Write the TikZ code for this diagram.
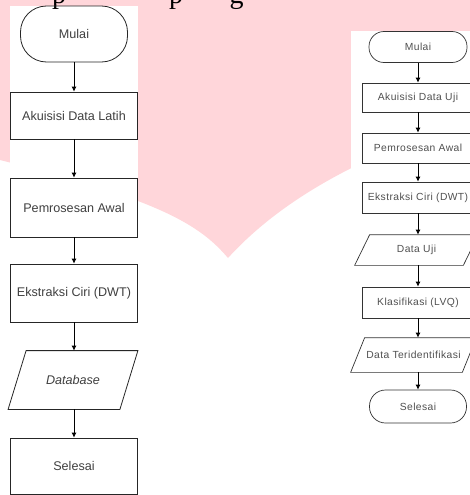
\documentclass[tikz,border=0pt]{standalone}
\usepackage{fontspec}
\setmainfont{Liberation Serif}
\newfontfamily\flowfont{Liberation Sans}
\newfontfamily\flowfontsm[LetterSpace=4]{Liberation Sans}
\usetikzlibrary{arrows.meta}
\definecolor{wmpink}{RGB}{255,214,218}
\definecolor{txtL}{RGB}{64,64,64}
\definecolor{txtR}{RGB}{80,80,80}
\tikzset{>={Latex[length=5pt,width=5pt]}}
\tikzset{
  boxL/.style={rectangle,draw=black!85,line width=0.8pt,minimum width=127pt,inner sep=0pt,text=txtL,font=\flowfont\fontsize{12.6}{15}\selectfont},
  termL/.style={boxL,rounded corners=26pt,minimum width=107pt,minimum height=56pt},
  paraL/.style={boxL,draw=none,minimum width=111pt,minimum height=58pt,font=\flowfont\itshape\fontsize{12.6}{15}\selectfont},
  edgeL/.style={draw=black!85,line width=0.8pt},
  boxR/.style={rectangle,draw=black!80,line width=0.7pt,minimum width=112pt,inner sep=0pt,text=txtR,font=\flowfontsm\fontsize{10.3}{12}\selectfont},
  termR/.style={boxR,rounded corners=15pt,minimum width=98pt,minimum height=31pt},
  paraR/.style={boxR,draw=none},
  edgeR/.style={draw=black!80,line width=0.7pt},
  flow/.style={draw=black,line width=0.8pt,->}
}

\begin{document}
\begin{tikzpicture}[x=1pt,y=-1pt]
\useasboundingbox (0,0) rectangle (470,495);
% watermark and white panels
\fill[wmpink] (0,0) -- (470,0) -- (470,120) .. controls (380,150) and (290,190) .. (228,258) .. controls (200,225) and (160,200) .. (0,160) -- cycle;
\fill[white] (10,6) rectangle (138,495);
\fill[white] (351,31) rectangle (470,495);
% cut text line above
\node[font=\fontsize{28}{30}\selectfont,anchor=base,inner sep=0pt] (p1) at (59,4) {p};
\node[font=\fontsize{28}{30}\selectfont,anchor=base,inner sep=0pt] (p2) at (176,4) {p};
\node[font=\fontsize{28}{30}\selectfont,anchor=base,inner sep=0pt] (g1) at (236.5,4) {g};

% training
\node[termL] (mulaiL) at (74,34) {Mulai};
\node[boxL,minimum height=47pt] (akuL) at (74,115.5) {Akuisisi Data Latih};
\node[boxL,minimum height=59pt] (praL) at (74,207.5) {Pemrosesan Awal};
\node[boxL,minimum height=58pt] (ekstL) at (74,293) {Ekstraksi Ciri (DWT)};
\node[paraL] (dbL) at (73,380) {Database};
\draw[edgeL] ([xshift=9pt]dbL.north west) -- ([xshift=9pt]dbL.north east) -- ([xshift=-9pt]dbL.south east) -- ([xshift=-9pt]dbL.south west) -- cycle;
\node[boxL,minimum height=56pt] (selL) at (74,466) {Selesai};
\path[flow] (mulaiL) -- (akuL);
\path[flow] (akuL) -- (praL);
\path[flow] (praL) -- (ekstL);
\path[flow] (ekstL.south) -- (ekstL.south |- dbL.north);
\path[flow] (ekstL.south |- dbL.south) -- (selL.north);

% testing
\node[termR] (mulaiR) at (418,47) {Mulai};
\node[boxR,minimum height=29pt] (akuR) at (418,97.5) {Akuisisi Data Uji};
\node[boxR,minimum height=30pt] (praR) at (418,148) {Pemrosesan Awal};
\node[boxR,minimum height=31pt] (ekstR) at (418,197.5) {Ekstraksi Ciri (DWT)};
\node[paraR,minimum width=108pt,minimum height=30pt] (ujiR) at (416.5,250) {Data Uji};
\draw[edgeR] ([xshift=7.5pt]ujiR.north west) -- ([xshift=7.5pt]ujiR.north east) -- ([xshift=-7.5pt]ujiR.south east) -- ([xshift=-7.5pt]ujiR.south west) -- cycle;
\node[boxR,minimum height=31pt] (klasR) at (418,302.5) {Klasifikasi (LVQ)};
\node[paraR,minimum width=111pt,minimum height=34pt] (idR) at (413.5,355) {Data Teridentifikasi};
\draw[edgeR] ([xshift=7pt]idR.north west) -- ([xshift=7pt]idR.north east) -- ([xshift=-7pt]idR.south east) -- ([xshift=-7pt]idR.south west) -- cycle;
\node[termR,minimum width=97pt,minimum height=33pt,rounded corners=16pt] (selR) at (418,406.5) {Selesai};
\path[flow] (mulaiR) -- (akuR);
\path[flow] (akuR) -- (praR);
\path[flow] (praR) -- (ekstR);
\path[flow] (ekstR.south) -- (ekstR.south |- ujiR.north);
\path[flow] (ekstR.south |- ujiR.south) -- (klasR.north);
\path[flow] (klasR.south) -- (klasR.south |- idR.north);
\path[flow] (klasR.south |- idR.south) -- (selR.north);
\end{tikzpicture}
\end{document}
